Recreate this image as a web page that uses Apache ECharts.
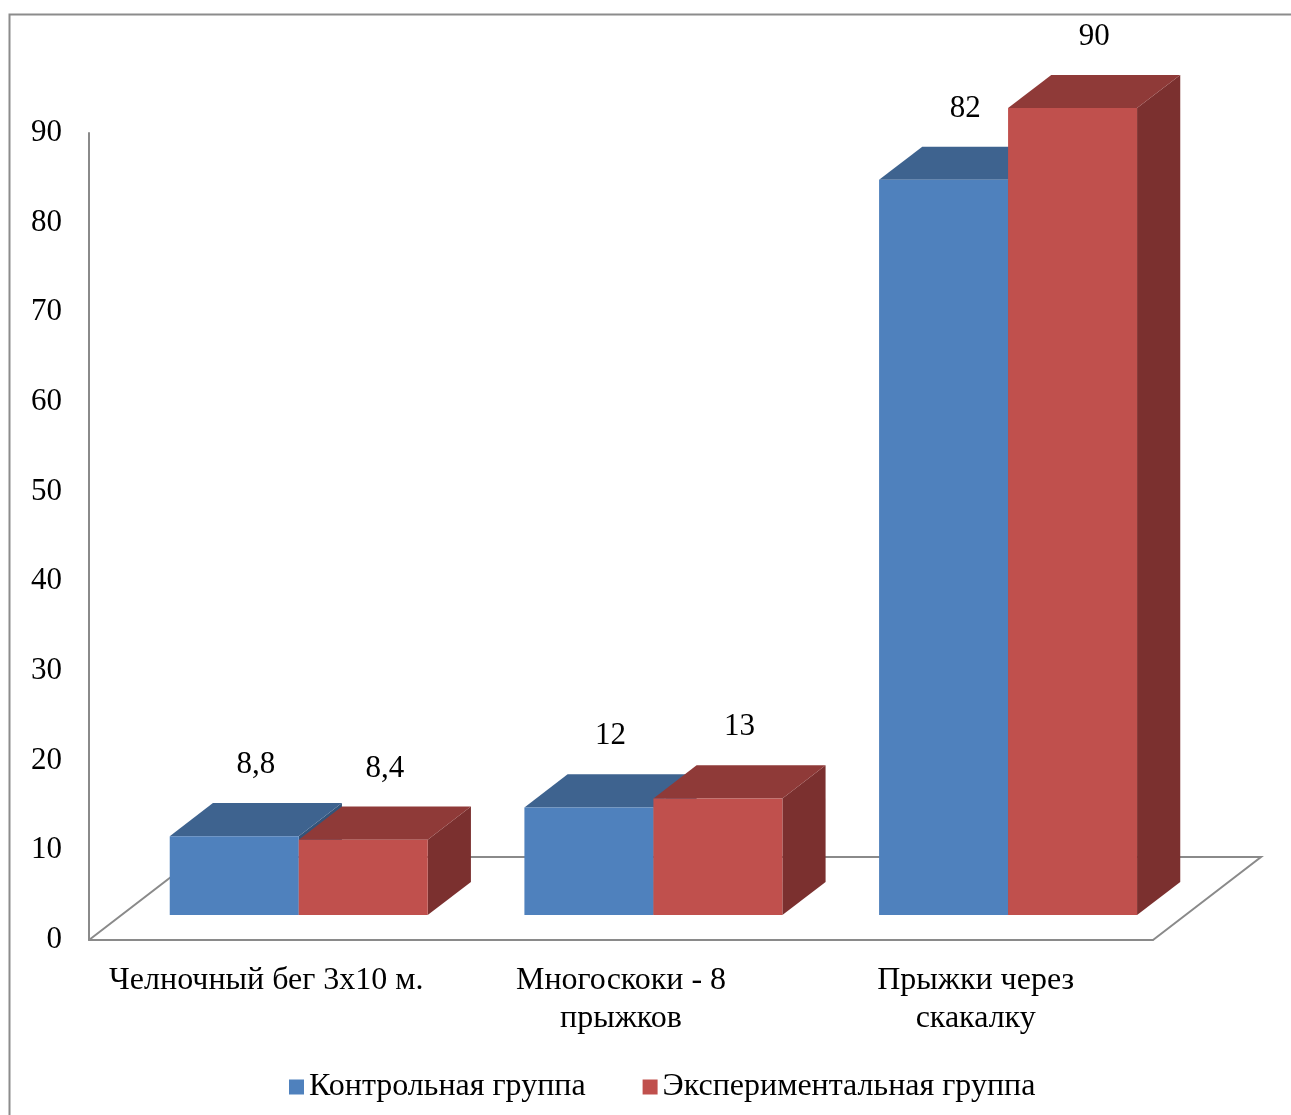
<!DOCTYPE html>
<html>
<head>
<meta charset="utf-8">
<script src="https://cdn.jsdelivr.net/npm/echarts@6/dist/echarts.min.js"></script>
<style>
  html, body { margin: 0; padding: 0; background: #fff; }
  #chart { width: 1291px; height: 1115px; }
</style>
</head>
<body>
<div id="chart"></div>
<script>
// данные диаграммы
var categories = ['Челночный бег 3х10 м.', 'Многоскоки - 8\nпрыжков', 'Прыжки через\nскакалку'];
var seriesNames = ['Контрольная группа', 'Экспериментальная группа'];
var controlValues = [8.8, 12, 82];
var experimentValues = [8.4, 13, 90];
var yTicks = [0, 10, 20, 30, 40, 50, 60, 70, 80, 90];

// псевдо-3D: глубина пола в пикселях
var DEPTH_X = 108;
var DEPTH_Y = 83;
var BAR_RATIO = 0.3637; // доля ширины категории на один столбик
var FONT = "'Liberation Serif', 'Times New Roman', serif";

var chart = echarts.init(document.getElementById('chart'));

function toPairs(values) {
  return values.map(function (v, i) { return [i, v]; });
}

// рисует столбик: передняя грань, верх, бок и подпись
function barRenderer(side, colors) {
  return function (params, api) {
    var cat = api.value(0);
    var val = api.value(1);
    var base = api.coord([cat, 0]);
    var top = api.coord([cat, val]);
    var catW = api.size([1, 0])[0];
    var w = catW * BAR_RATIO;
    var ox = DEPTH_X * 0.3, oy = DEPTH_Y * 0.3;
    var dx = DEPTH_X * 0.4, dy = DEPTH_Y * 0.4;
    var x0 = base[0] + ox + (side < 0 ? -w : 0);
    var x1 = x0 + w;
    var yb = base[1] - oy;
    var yt = top[1] - oy;
    return {
      type: 'group',
      children: [
        {
          type: 'polygon',
          shape: { points: [[x1, yt], [x1 + dx, yt - dy], [x1 + dx, yb - dy], [x1, yb]] },
          style: { fill: colors.side }
        },
        {
          type: 'polygon',
          shape: { points: [[x0, yt], [x1, yt], [x1 + dx, yt - dy], [x0 + dx, yt - dy]] },
          style: { fill: colors.top }
        },
        {
          type: 'rect',
          shape: { x: x0, y: yt, width: w, height: yb - yt },
          style: { fill: colors.front }
        },
        {
          type: 'text',
          x: (x0 + x1) / 2 + dx / 2,
          y: yt - dy - 38,
          style: {
            text: String(val).replace('.', ','),
            font: '31px ' + FONT,
            fill: '#000',
            align: 'center',
            verticalAlign: 'middle'
          }
        }
      ]
    };
  };
}

// пол (параллелограмм за столбиками)
function floorRenderer(params, api) {
  var cs = params.coordSys;
  var xl = cs.x, xr = cs.x + cs.width, yf = cs.y + cs.height;
  return {
    type: 'polyline',
    shape: {
      points: [[xl, yf], [xl + DEPTH_X, yf - DEPTH_Y], [xr + DEPTH_X, yf - DEPTH_Y], [xr, yf]]
    },
    style: { stroke: '#8a8a8a', lineWidth: 2, fill: null }
  };
}

var option = {
  animation: false,
  backgroundColor: '#fff',
  graphic: [{
    type: 'rect',
    left: 7, top: 12,
    shape: { width: 1320, height: 1200 },
    style: { fill: null, stroke: '#8c8c8c', lineWidth: 2 },
    z: -10
  }],
  legend: {
    data: seriesNames,
    left: 284,
    top: 1066,
    icon: 'rect',
    itemWidth: 15,
    itemHeight: 15,
    itemGap: 57,
    textStyle: { fontFamily: FONT, fontSize: 32, color: '#000' }
  },
  grid: { left: 89, top: 133, right: 138, bottom: 175, containLabel: false },
  xAxis: {
    type: 'category',
    data: categories,
    axisLine: { show: true, lineStyle: { color: '#8a8a8a', width: 2 } },
    axisTick: { show: false },
    splitLine: { show: false },
    axisLabel: {
      interval: 0,
      margin: 22,
      fontFamily: FONT,
      fontSize: 32,
      lineHeight: 38,
      color: '#000'
    }
  },
  yAxis: {
    type: 'value',
    min: yTicks[0],
    max: yTicks[yTicks.length - 1],
    interval: 10,
    axisLine: { show: true, lineStyle: { color: '#8a8a8a', width: 2 } },
    axisTick: { show: false },
    splitLine: { show: false },
    axisLabel: { margin: 27, fontFamily: FONT, fontSize: 31, color: '#000' }
  },
  series: [
    {
      type: 'custom',
      name: 'floor',
      data: [[0, 0]],
      renderItem: floorRenderer,
      silent: true,
      z: 1
    },
    {
      type: 'custom',
      name: seriesNames[0],
      data: toPairs(controlValues),
      itemStyle: { color: '#4F81BD' },
      renderItem: barRenderer(-1, { front: '#4F81BD', top: '#3E638F', side: '#34547A' }),
      z: 2
    },
    {
      type: 'custom',
      name: seriesNames[1],
      data: toPairs(experimentValues),
      itemStyle: { color: '#C0504D' },
      renderItem: barRenderer(1, { front: '#C0504D', top: '#8F3A38', side: '#7B302F' }),
      z: 3
    }
  ]
};

chart.setOption(option);
</script>
</body>
</html>
